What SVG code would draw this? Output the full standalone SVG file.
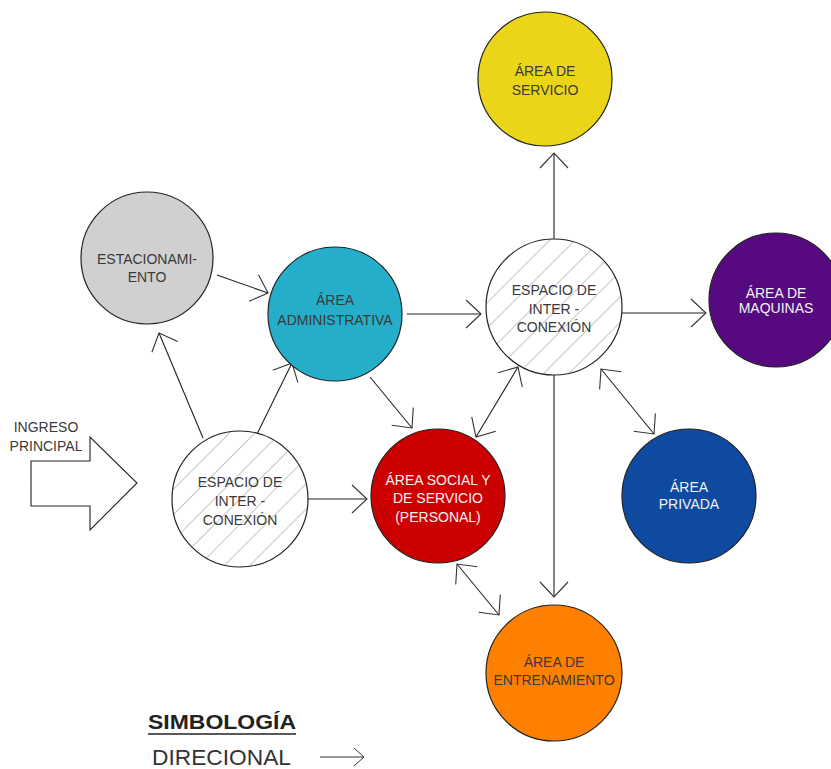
<svg xmlns="http://www.w3.org/2000/svg" width="831" height="769" viewBox="0 0 831 769">
  <style>
    .node { stroke: #222; stroke-width: 1.2; }
    .lbl { font-family: "Liberation Sans", Arial, sans-serif; font-size: 14px; fill: #3a3a3a; text-anchor: middle; }
    .lbl.light { fill: #f2f2f2; }
    .conn line { stroke: #222; stroke-width: 1.1; fill: none; }
    .one { marker-end: url(#head); }
    .two { marker-start: url(#headStart); marker-end: url(#head); }
  </style>
  <defs>
    <marker id="head" viewBox="-16 -15 18 30" refX="0" refY="0" markerWidth="18" markerHeight="30" markerUnits="userSpaceOnUse" orient="auto">
      <path d="M-15,-14 L0,0 L-15,14" fill="none" stroke="#333" stroke-width="1.1"/>
    </marker>
    <marker id="headStart" viewBox="-2 -15 18 30" refX="0" refY="0" markerWidth="18" markerHeight="30" markerUnits="userSpaceOnUse" orient="auto">
      <path d="M15,-14 L0,0 L15,14" fill="none" stroke="#333" stroke-width="1.1"/>
    </marker>
    <pattern id="hatch" width="18" height="18" patternUnits="userSpaceOnUse" patternTransform="rotate(-45)">
      <rect width="18" height="18" fill="#fff"/>
      <line x1="0" y1="0" x2="18" y2="0" stroke="#8c8c8c" stroke-width="1"/>
    </pattern>
  </defs>

  <rect width="831" height="769" fill="#fff"/>

  <!-- connectors -->
  <g id="connectors" class="conn">
    <line class="one" x1="217" y1="275" x2="268" y2="293"/>
    <line class="one" x1="203" y1="438" x2="159" y2="333"/>
    <line class="one" x1="257" y1="434" x2="292" y2="363"/>
    <line class="one" x1="308" y1="499" x2="367" y2="499"/>
    <line class="one" x1="370" y1="377" x2="412" y2="428"/>
    <line class="one" x1="407" y1="314" x2="481" y2="314"/>
    <line class="one" x1="554" y1="240" x2="554" y2="153"/>
    <line class="one" x1="622" y1="313" x2="706" y2="313"/>
    <line class="one" x1="554" y1="374" x2="554" y2="597"/>
    <line class="two" x1="476" y1="437" x2="518" y2="367"/>
    <line class="two" x1="601" y1="369" x2="654" y2="434"/>
    <line class="two" x1="457" y1="564" x2="499" y2="615"/>
  </g>

  <!-- main entrance -->
  <g id="ingreso">
    <polygon points="31,461 90,461 90,437 137,483 90,530 90,506 31,506" fill="#fff" stroke="#222" stroke-width="1.1"/>
    <text class="lbl" x="46" y="432">INGRESO</text>
    <text class="lbl" x="46" y="451">PRINCIPAL</text>
  </g>

  <g id="area-servicio">
    <circle class="node" cx="545" cy="79" r="67" fill="#EAD519"/>
    <text class="lbl" x="545" y="76">ÁREA DE</text>
    <text class="lbl" x="545" y="95">SERVICIO</text>
  </g>

  <g id="estacionamiento">
    <circle class="node" cx="147" cy="258" r="66" fill="#D0D0D0"/>
    <text class="lbl" x="147" y="264">ESTACIONAMI-</text>
    <text class="lbl" x="147" y="282">ENTO</text>
  </g>

  <g id="area-administrativa">
    <circle class="node" cx="335" cy="314" r="67" fill="#24AECA"/>
    <text class="lbl" x="335" y="305">ÁREA</text>
    <text class="lbl" x="335" y="325">ADMINISTRATIVA</text>
  </g>

  <g id="interconexion-norte">
    <circle class="node" cx="554" cy="307" r="68" fill="url(#hatch)"/>
    <text class="lbl" x="554" y="295">ESPACIO DE</text>
    <text class="lbl" x="554" y="314">INTER -</text>
    <text class="lbl" x="554" y="332">CONEXIÓN</text>
  </g>

  <g id="area-maquinas">
    <circle class="node" cx="776" cy="300" r="67" fill="#570A80"/>
    <text class="lbl light" x="776" y="298">ÁREA DE</text>
    <text class="lbl light" x="776" y="313">MAQUINAS</text>
  </g>

  <g id="interconexion-sur">
    <circle class="node" cx="240" cy="499" r="68" fill="url(#hatch)"/>
    <text class="lbl" x="240" y="487">ESPACIO DE</text>
    <text class="lbl" x="240" y="506">INTER -</text>
    <text class="lbl" x="240" y="525">CONEXIÓN</text>
  </g>

  <g id="area-social">
    <circle class="node" cx="438" cy="496" r="67" fill="#CC0000"/>
    <text class="lbl light" x="438" y="485">ÁREA SOCIAL Y</text>
    <text class="lbl light" x="438" y="503">DE SERVICIO</text>
    <text class="lbl light" x="438" y="522">(PERSONAL)</text>
  </g>

  <g id="area-privada">
    <circle class="node" cx="689" cy="496" r="67" fill="#0D4AA0"/>
    <text class="lbl light" x="689" y="492">ÁREA</text>
    <text class="lbl light" x="689" y="509">PRIVADA</text>
  </g>

  <g id="area-entrenamiento">
    <circle class="node" cx="554" cy="673" r="68" fill="#FF7F00"/>
    <text class="lbl" x="554" y="667">ÁREA DE</text>
    <text class="lbl" x="554" y="685">ENTRENAMIENTO</text>
  </g>

  <!-- legend -->
  <g id="simbologia">
    <text x="148" y="729" font-family="'Liberation Sans', Arial, sans-serif" font-size="21" font-weight="bold" fill="#222" textLength="148" lengthAdjust="spacingAndGlyphs">SIMBOLOGÍA</text>
    <line x1="148" y1="734" x2="296" y2="734" stroke="#222" stroke-width="1.6"/>
    <text x="152" y="765" font-family="'Liberation Sans', Arial, sans-serif" font-size="22" fill="#333" textLength="139" lengthAdjust="spacingAndGlyphs">DIRECIONAL</text>
    <line x1="320" y1="757" x2="364" y2="757" stroke="#333" stroke-width="1"/>
    <path d="M354,748 L364,757 L354,766" fill="none" stroke="#333" stroke-width="1"/>
  </g>
</svg>
